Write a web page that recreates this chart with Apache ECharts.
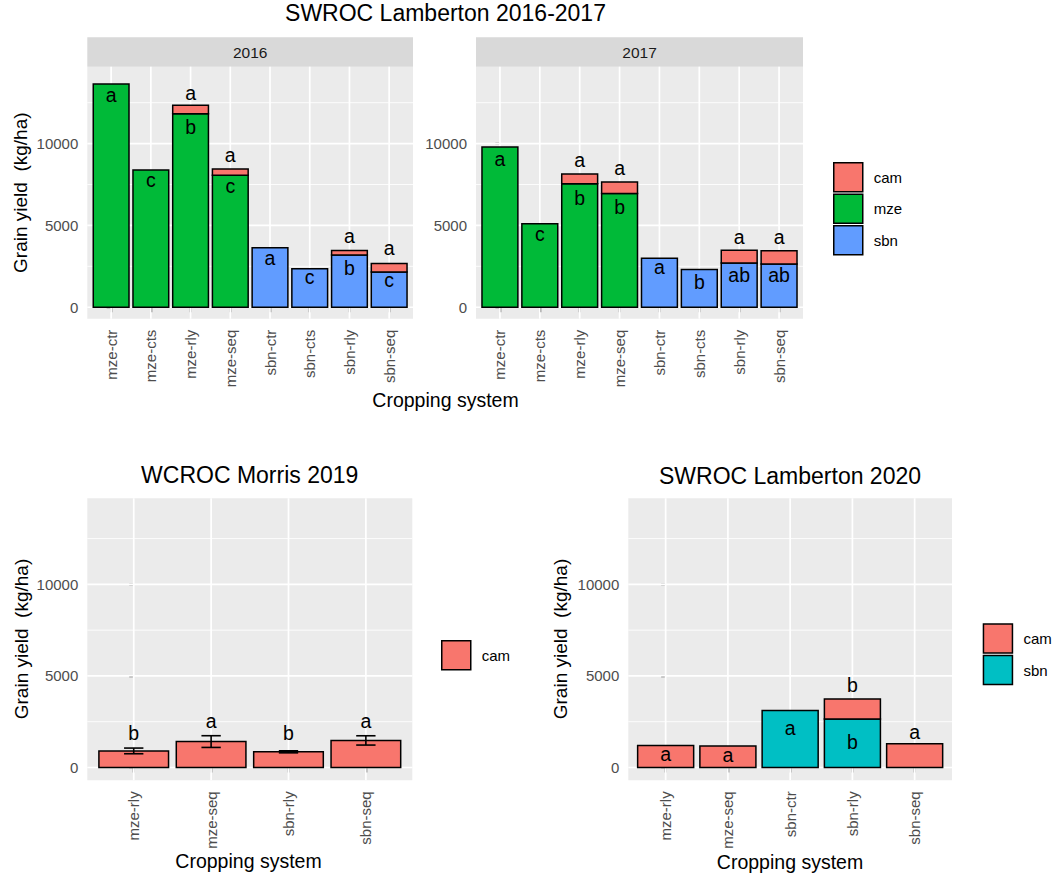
<!DOCTYPE html>
<html><head><meta charset="utf-8">
<script src="https://cdn.jsdelivr.net/npm/echarts@6/dist/echarts.min.js"></script>
<style>html,body{margin:0;padding:0;background:#fff}#chart{width:1057px;height:882px}</style>
</head><body><div id="chart"></div>
<script>
// ---------- categories & ticks ----------
const cats8 = ['mze-ctr','mze-cts','mze-rly','mze-seq','sbn-ctr','sbn-cts','sbn-rly','sbn-seq'];
const catsMorris = ['mze-rly','mze-seq','sbn-rly','sbn-seq'];
const cats2020 = ['mze-rly','mze-seq','sbn-ctr','sbn-rly','sbn-seq'];
const yTicks = [0, 5000, 10000];
const yTickLabels = ['0', '5000', '10000'];
const yMinorTicks = [2500, 7500, 12500];
const yLimits = [-700, 14700];

// ---------- SWROC Lamberton 2016 ----------
const mze2016 = [13650, 8390, 11830, 8060, null, null, null, null];
const sbn2016 = [null, null, null, null, 3630, 2360, 3200, 2160];
const cam2016 = [null, null, 510, 390, null, null, 265, 510];
const letters2016 = [[0,12890,'a'],[1,7700,'c'],[2,12990,'a'],[2,10900,'b'],[3,9220,'a'],[3,7290,'c'],
                     [4,2910,'a'],[5,1740,'c'],[6,4240,'a'],[6,2300,'b'],[7,3520,'a'],[7,1590,'c']];
// ---------- SWROC Lamberton 2017 ----------
const mze2017 = [9800, 5110, 7540, 6950, null, null, null, null];
const sbn2017 = [null, null, null, null, 2990, 2300, 2710, 2650];
const cam2017 = [null, null, 610, 710, null, null, 770, 795];
const letters2017 = [[0,8980,'a'],[1,4380,'c'],[2,8880,'a'],[2,6580,'b'],[3,8410,'a'],[3,6010,'b'],
                     [4,2350,'a'],[5,1450,'b'],[6,4180,'a'],[6,1860,'ab'],[7,4180,'a'],[7,1860,'ab']];
// ---------- WCROC Morris 2019 ----------
const camMorris = [905, 1415, 855, 1478];
const seMorris = [155, 320, 55, 254];
const lettersMorris = [[0,1790,'b'],[1,2430,'a'],[2,1790,'b'],[3,2430,'a']];
// ---------- SWROC Lamberton 2020 ----------
const sbn2020 = [null, null, 3115, 2645, null];
const cam2020 = [1200, 1170, null, 1093, 1295];
const letters2020 = [[0,640,'a'],[1,600,'a'],[2,2060,'a'],[3,4430,'b'],[3,1330,'b'],[4,1840,'a']];

// ---------- style ----------
const FONT = '"Liberation Sans", Arial, Helvetica, sans-serif';
const COL = {cam:'#F8766D', mze:'#00BA38', sbn:'#619CFF', sbn2020:'#00BFC4'};
const PANEL_BG = '#EBEBEB';

const grids = [
  {left: 87.3, top: 66.7, width: 325.7, height: 252},   // 2016
  {left: 476,  top: 66.7, width: 327,   height: 252},   // 2017
  {left: 87.3, top: 498.3, width: 325,  height: 282},   // Morris
  {left: 628.3, top: 498.3, width: 323.7, height: 282}  // 2020
];
const gridCats = [cats8, cats8, catsMorris, cats2020];

function seq(n){ return Array.from({length:n}, (_, i) => i); }

const xAxes = grids.map((g, gi) => {
  const cats = gridCats[gi];
  return {
    type: 'value', gridIndex: gi, min: -0.6, max: cats.length - 1 + 0.6,
    axisLine: {show: false},
    splitLine: {show: false},
    axisTick: {show: true, customValues: seq(cats.length), length: 5, lineStyle: {color: '#333', width: 1.4}},
    axisLabel: {customValues: seq(cats.length), rotate: 90, margin: 11, fontSize: 15, color: '#4D4D4D',
      fontFamily: FONT, formatter: v => cats[Math.round(v)]}
  };
});
const yAxes = grids.map((g, gi) => ({
  type: 'value', gridIndex: gi, min: yLimits[0], max: yLimits[1],
  axisLine: {show: false},
  splitLine: {show: false},
  axisTick: {show: true, customValues: yTicks, length: 4.5, lineStyle: {color: '#333', width: 1.4}},
  axisLabel: {customValues: yTicks, margin: 9, fontSize: 15, color: '#4D4D4D', fontFamily: FONT,
    formatter: v => yTickLabels[yTicks.indexOf(v)] ?? String(v)}
}));

const series = [];

function gridLines(gi, n) {
  const hData = yTicks.map(v => [0, v, 1]).concat(yMinorTicks.map(v => [0, v, 0]));
  series.push({
    type: 'custom', xAxisIndex: gi, yAxisIndex: gi, silent: true, z: 1,
    data: hData, encode: {x: 0, y: 1},
    renderItem: (params, api) => {
      const cs = params.coordSys;
      const y = api.coord([0, api.value(1)])[1];
      return {type: 'line', shape: {x1: cs.x, y1: y, x2: cs.x + cs.width, y2: y},
        style: {stroke: '#FFFFFF', lineWidth: api.value(2) ? 1.7 : 0.85}};
    }
  });
  series.push({
    type: 'custom', xAxisIndex: gi, yAxisIndex: gi, silent: true, z: 1,
    data: seq(n).map(i => [i, 0]), encode: {x: 0, y: 1},
    renderItem: (params, api) => {
      const cs = params.coordSys;
      const x = api.coord([api.value(0), 0])[0];
      return {type: 'line', shape: {x1: x, y1: cs.y, x2: x, y2: cs.y + cs.height},
        style: {stroke: '#FFFFFF', lineWidth: 1.7}};
    }
  });
}

function barSeries(name, gi, color, values, base) {
  const data = [];
  values.forEach((v, i) => {
    if (v == null) return;
    const b = base ? base.reduce((s, arr) => s + (arr[i] || 0), 0) : 0;
    data.push([i, b, b + v]);
  });
  series.push({
    name, type: 'custom', xAxisIndex: gi, yAxisIndex: gi, z: 2,
    itemStyle: {color},
    data, encode: {x: 0, y: [1, 2]},
    renderItem: (params, api) => {
      const i = api.value(0);
      const p0 = api.coord([i, api.value(1)]);
      const p1 = api.coord([i, api.value(2)]);
      const w = api.size([0.9, 0])[0];
      return {type: 'rect', shape: {x: p0[0] - w / 2, y: p1[1], width: w, height: p0[1] - p1[1]},
        style: {fill: color, stroke: '#000000', lineWidth: 1.5}};
    }
  });
}

function errorBars(gi, values, se) {
  series.push({
    type: 'custom', xAxisIndex: gi, yAxisIndex: gi, silent: true, z: 3,
    data: values.map((v, i) => [i, v - se[i], v + se[i]]), encode: {x: 0, y: [1, 2]},
    renderItem: (params, api) => {
      const i = api.value(0);
      const lo = api.coord([i, api.value(1)]);
      const hi = api.coord([i, api.value(2)]);
      const cw = api.size([0.25, 0])[0] / 2;
      const st = {stroke: '#000000', lineWidth: 1.6};
      return {type: 'group', children: [
        {type: 'line', shape: {x1: lo[0], y1: lo[1], x2: hi[0], y2: hi[1]}, style: st},
        {type: 'line', shape: {x1: lo[0] - cw, y1: lo[1], x2: lo[0] + cw, y2: lo[1]}, style: st},
        {type: 'line', shape: {x1: hi[0] - cw, y1: hi[1], x2: hi[0] + cw, y2: hi[1]}, style: st}
      ]};
    }
  });
}

function letters(gi, arr) {
  series.push({
    type: 'custom', xAxisIndex: gi, yAxisIndex: gi, silent: true, z: 4,
    data: arr, encode: {x: 0, y: 1},
    renderItem: (params, api) => {
      const p = api.coord([api.value(0), api.value(1)]);
      return {type: 'text', x: p[0], y: p[1] - 1.5,
        style: {text: arr[params.dataIndex][2], fill: '#000000', fontSize: 19.5, fontFamily: FONT,
          align: 'center', verticalAlign: 'middle', textAlign: 'center', textVerticalAlign: 'middle'}};
    }
  });
}

// 2016
gridLines(0, cats8.length);
barSeries('mze', 0, COL.mze, mze2016);
barSeries('sbn', 0, COL.sbn, sbn2016);
barSeries('cam', 0, COL.cam, cam2016, [mze2016, sbn2016]);
letters(0, letters2016);
// 2017
gridLines(1, cats8.length);
barSeries('mze', 1, COL.mze, mze2017);
barSeries('sbn', 1, COL.sbn, sbn2017);
barSeries('cam', 1, COL.cam, cam2017, [mze2017, sbn2017]);
letters(1, letters2017);
// Morris 2019
gridLines(2, catsMorris.length);
barSeries('cam', 2, COL.cam, camMorris);
errorBars(2, camMorris, seMorris);
letters(2, lettersMorris);
// 2020
gridLines(3, cats2020.length);
barSeries('sbn', 3, COL.sbn2020, sbn2020);
barSeries('cam', 3, COL.cam, cam2020, [sbn2020]);
letters(3, letters2020);

function txt(text, x, y, size, color, rot) {
  return {type: 'text', x, y, rotation: rot || 0, silent: true, z: 10,
    style: {text, fill: color, fontSize: size, fontFamily: FONT,
      align: 'center', verticalAlign: 'middle', textAlign: 'center', textVerticalAlign: 'middle'}};
}
function legendItem(name, color) {
  return {name, icon: 'rect', itemStyle: {color, borderColor: '#000000', borderWidth: 1.5}};
}
const legendCommon = {orient: 'vertical', padding: 0, itemWidth: 29, itemHeight: 29, itemGap: 1, selectedMode: false,
  textStyle: {fontSize: 15, color: '#000000', fontFamily: FONT, padding: [0, 0, 0, 6]}};

const option = {
  animation: false,
  backgroundColor: '#FFFFFF',
  grid: grids.map(g => Object.assign({show: true, backgroundColor: PANEL_BG, borderWidth: 0, containLabel: false}, g)),
  xAxis: xAxes,
  yAxis: yAxes,
  series,
  legend: [
    Object.assign({left: 833, top: 162, data: [legendItem('cam', COL.cam), legendItem('mze', COL.mze), legendItem('sbn', COL.sbn)]}, legendCommon),
    Object.assign({left: 441, top: 640, data: [legendItem('cam', COL.cam)]}, legendCommon),
    Object.assign({left: 982.7, top: 623.3, data: [legendItem('cam', COL.cam), legendItem('sbn', COL.sbn2020)]}, legendCommon)
  ],
  graphic: [
    {type: 'rect', silent: true, shape: {x: 87.3, y: 37.3, width: 325.7, height: 29.4}, style: {fill: '#D9D9D9'}},
    {type: 'rect', silent: true, shape: {x: 476, y: 37.3, width: 327, height: 29.4}, style: {fill: '#D9D9D9'}},
    txt('2016', 250.2, 52.5, 15.5, '#1A1A1A'),
    txt('2017', 639.5, 52.5, 15.5, '#1A1A1A'),
    txt('SWROC Lamberton 2016-2017', 445.5, 13, 23, '#000000'),
    txt('WCROC Morris 2019', 249.7, 475, 23, '#000000'),
    txt('SWROC Lamberton 2020', 790, 476, 23, '#000000'),
    txt('Cropping system', 445.5, 400, 19.5, '#000000'),
    txt('Cropping system', 248.5, 861, 19.5, '#000000'),
    txt('Cropping system', 790, 862, 19.5, '#000000'),
    txt('Grain yield\u00A0 (kg/ha)', 20, 192.7, 19, '#000000', Math.PI / 2),
    txt('Grain yield\u00A0 (kg/ha)', 21, 639, 19, '#000000', Math.PI / 2),
    txt('Grain yield\u00A0 (kg/ha)', 560, 639, 19, '#000000', Math.PI / 2)
  ]
};

const chart = echarts.init(document.getElementById('chart'), null, {renderer: 'svg'});
chart.setOption(option);
</script>
</body></html>
